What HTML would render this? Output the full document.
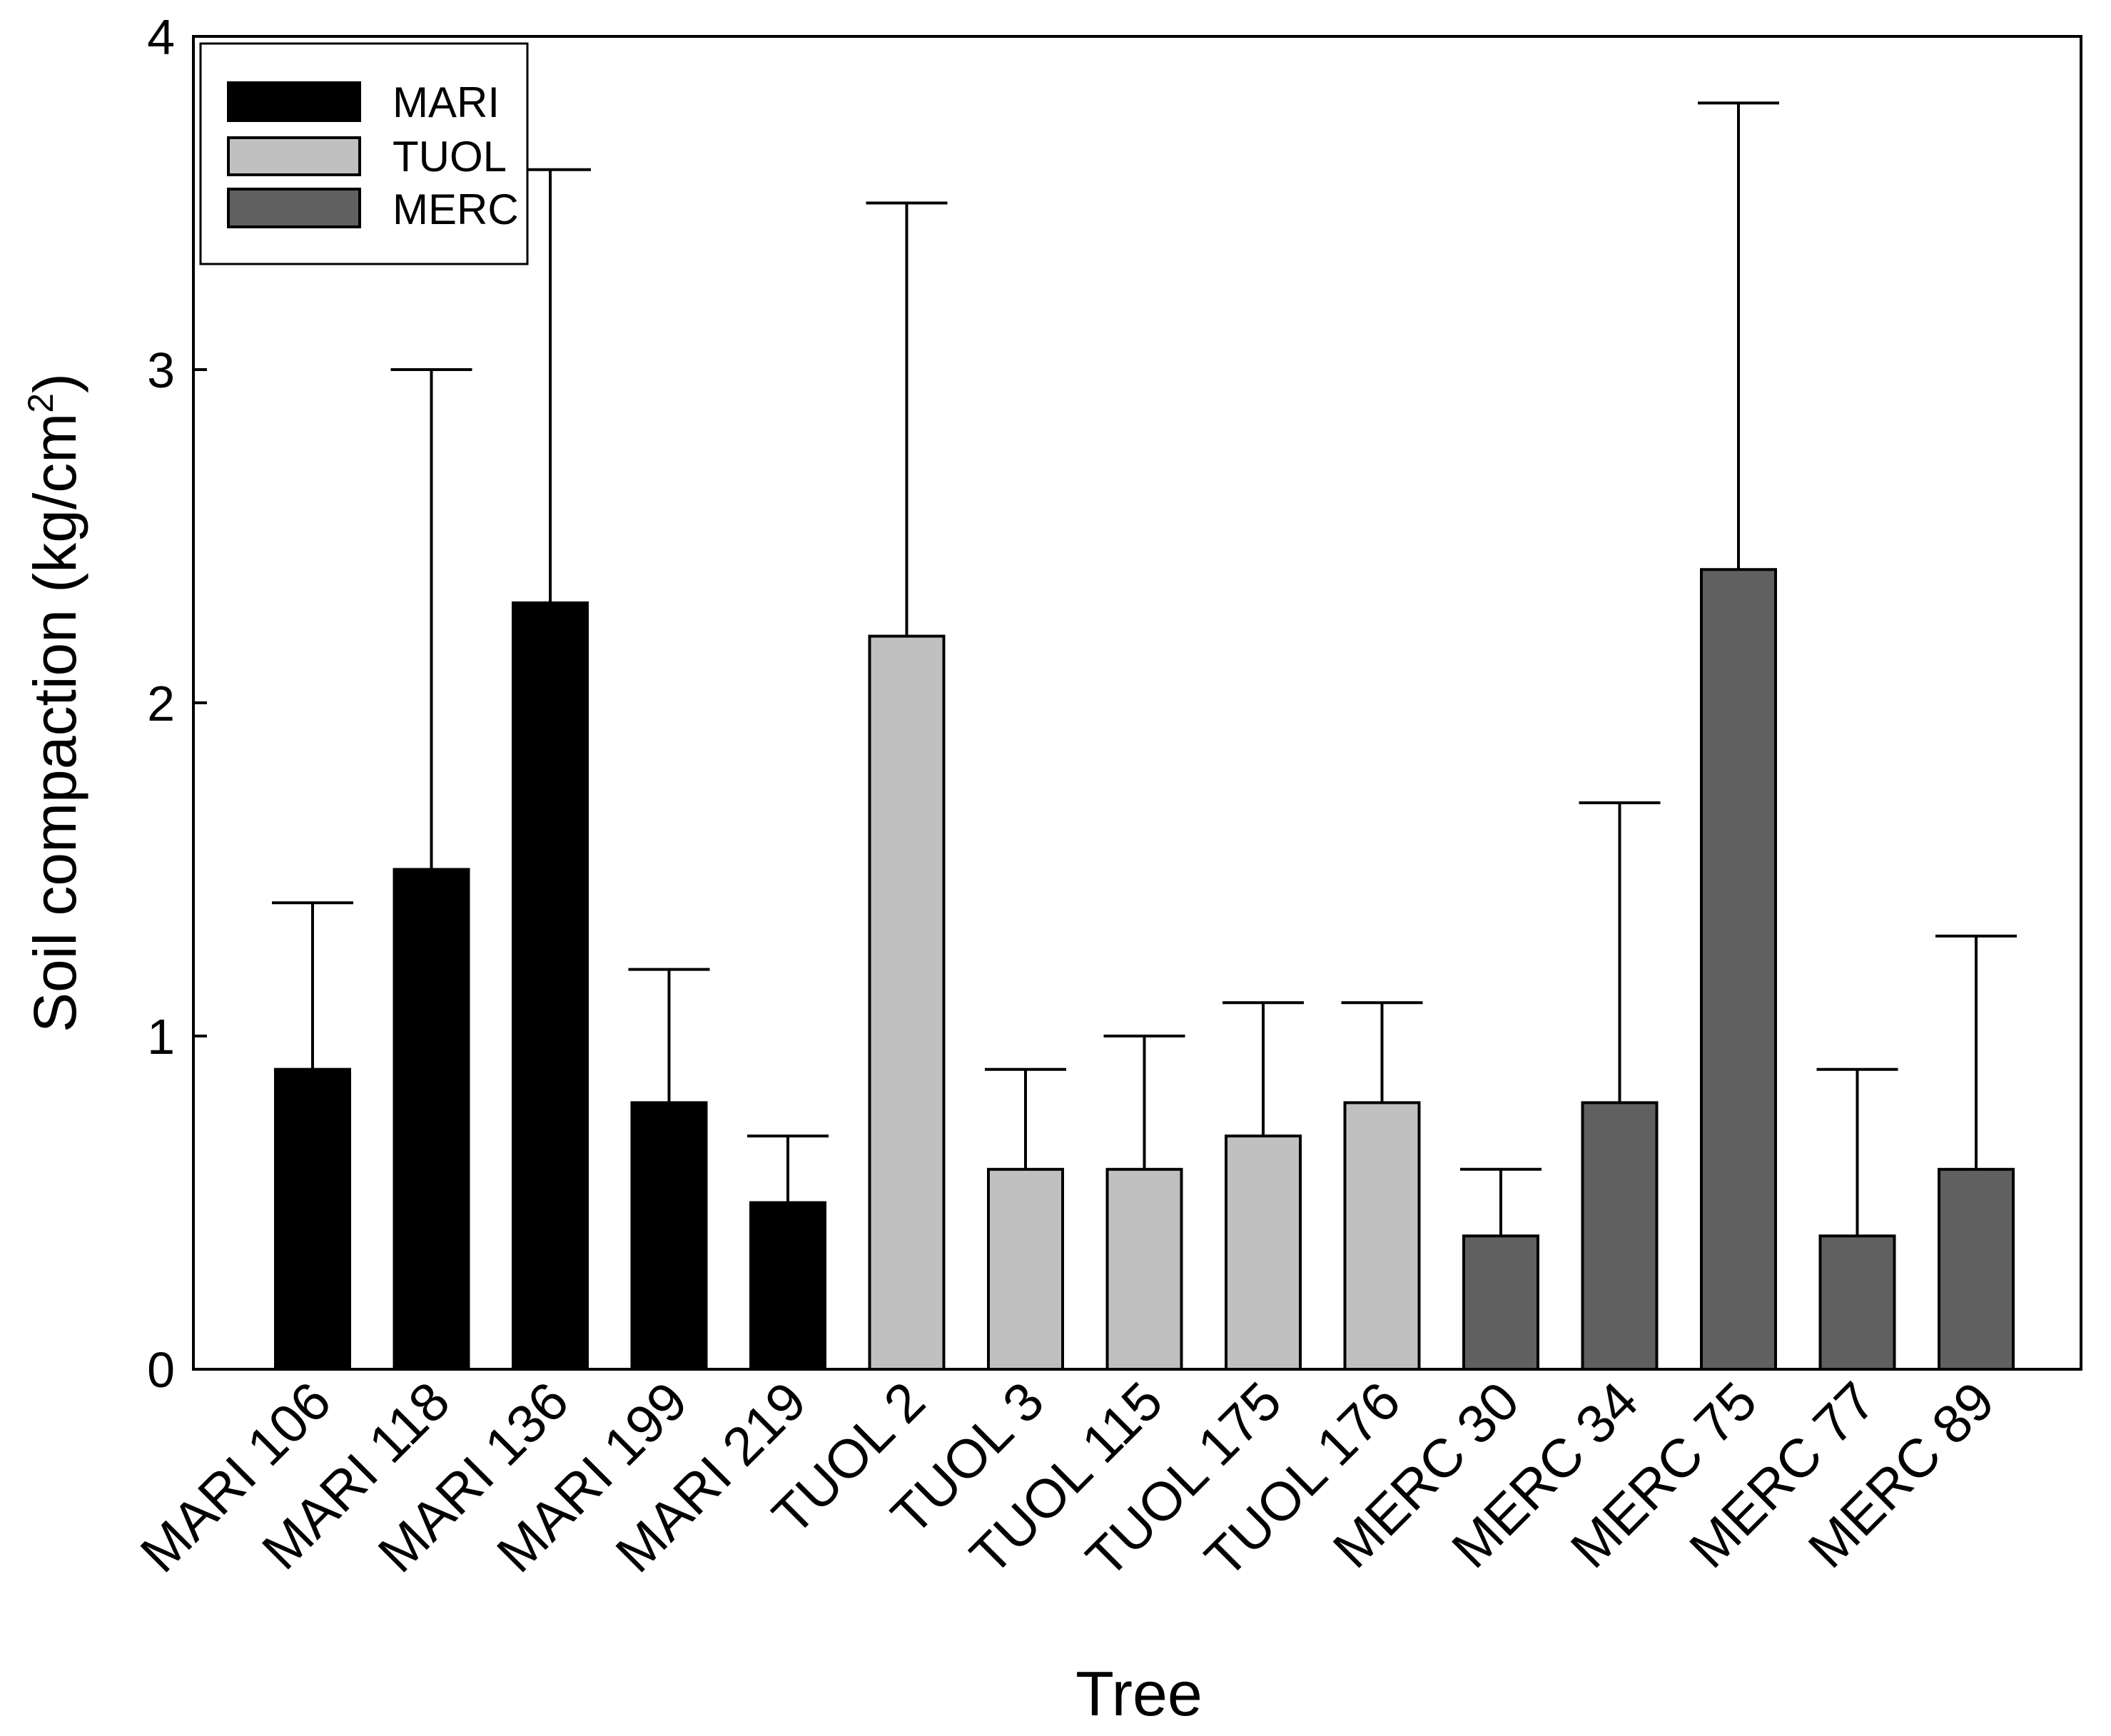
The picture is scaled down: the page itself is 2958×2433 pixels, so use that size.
<!DOCTYPE html>
<html><head><meta charset="utf-8"><style>html,body{margin:0;padding:0;background:#fff}svg{display:block}text{font-family:"Liberation Sans",Arial,sans-serif;fill:#000}</style></head>
<body>
<svg id="chart" width="2958" height="2433" viewBox="0 0 2958 2433" xmlns="http://www.w3.org/2000/svg">
<g id="bars"></g>
<g id="xlabels"></g>
<g id="yaxis"></g>
<rect x="271" y="51" width="2645" height="1868" fill="none" stroke="#000" stroke-width="4"/>
<g>
<rect x="281" y="61" width="458" height="309" fill="#fff" stroke="#000" stroke-width="3"/>
<rect x="320" y="116" width="184" height="53" fill="#000" stroke="#000" stroke-width="4"/>
<text x="550" y="164" font-size="60">MARI</text>
<rect x="320" y="193" width="184" height="52" fill="#c0c0c0" stroke="#000" stroke-width="4"/>
<text x="550" y="240" font-size="60">TUOL</text>
<rect x="320" y="265" width="184" height="53" fill="#606060" stroke="#000" stroke-width="4"/>
<text x="550" y="314" font-size="60">MERC</text>
</g>
<text transform="translate(106,985) rotate(-90)" text-anchor="middle" font-size="84">Soil compaction (kg/cm<tspan dy="-32" font-size="50">2</tspan><tspan dy="32">)</tspan></text>
<text x="1596" y="2404" text-anchor="middle" font-size="88">Tree</text>
</svg>
<script>
const categories = ["MARI 106","MARI 118","MARI 136","MARI 199","MARI 219","TUOL 2","TUOL 3","TUOL 115","TUOL 175","TUOL 176","MERC 30","MERC 34","MERC 75","MERC 77","MERC 89"];
const groups = ["MARI","MARI","MARI","MARI","MARI","TUOL","TUOL","TUOL","TUOL","TUOL","MERC","MERC","MERC","MERC","MERC"];
const means = [0.9,1.5,2.3,0.8,0.5,2.2,0.6,0.6,0.7,0.8,0.4,0.8,2.4,0.4,0.6];
const errorTops = [1.4,3.0,3.6,1.2,0.7,3.5,0.9,1.0,1.1,1.1,0.6,1.7,3.8,0.9,1.3];
const yTicks = [0,1,2,3,4];
const colors = {MARI:"#000",TUOL:"#c0c0c0",MERC:"#606060"};
const NS="http://www.w3.org/2000/svg";
const x0=271,x1=2916,yTop=51,yBot=1919,yMax=4;
const y=v=>yBot-(v/yMax)*(yBot-yTop);
const step=166.5, first=438;
const xc=i=>first+i*step;
const bw=104, cap=57;
function mk(tag,attrs){const e=document.createElementNS(NS,tag);for(const k in attrs)e.setAttribute(k,attrs[k]);return e;}
const bars=document.getElementById('bars'), xl=document.getElementById('xlabels'), ya=document.getElementById('yaxis');
categories.forEach((c,i)=>{
  const cx=xc(i);
  const eb=mk('path',{d:`M${cx},${y(means[i])}V${y(errorTops[i])}M${cx-cap},${y(errorTops[i])}H${cx+cap}`,stroke:'#000','stroke-width':4,fill:'none'});
  
  
  bars.appendChild(eb);
  const r=mk('rect',{x:cx-bw/2,y:y(means[i]),width:bw,height:y(0)-y(means[i]),fill:colors[groups[i]],stroke:'#000','stroke-width':4});
  
  
  bars.appendChild(r);
  const t=mk('text',{transform:`translate(${cx+30},${yBot+50}) rotate(-45)`,'text-anchor':'end','font-size':76});
  t.textContent=c;
  
  
  xl.appendChild(t);
});
yTicks.forEach(v=>{
  const l=mk('line',{x1:x0,x2:x0+19,y1:y(v),y2:y(v),stroke:'#000','stroke-width':4});
  
  
  ya.appendChild(l);
  const t=mk('text',{x:245,y:y(v)+25,'text-anchor':'end','font-size':70});
  t.textContent=v;
  
  
  ya.appendChild(t);
});
</script>
</body></html>
